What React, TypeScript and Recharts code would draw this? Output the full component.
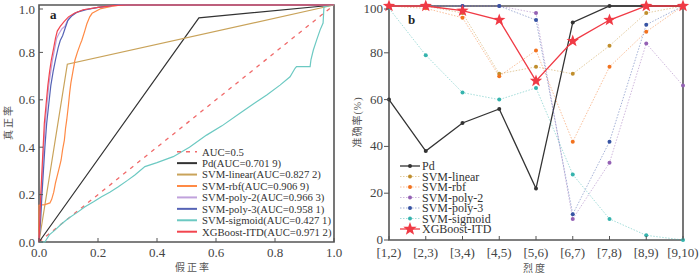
import { LineChart, Line, XAxis, YAxis, ReferenceArea, Legend } from "recharts";

const SERIF = "'Liberation Serif', 'Noto Sans CJK SC', serif";
const AXIS = "#555";

// ---- panel a: ROC curves, [fpr, tpr]
const rateTicks = [0, 0.2, 0.4, 0.6, 0.8, 1];
const rocRandom = [[0, 0], [1, 1]];
const rocPd = [[0, 0], [0.542, 0.946], [1, 1]];
const rocLinear = [[0, 0], [0.096, 0.75], [1, 1]];
const rocRbf = [
  [0, 0], [0, 0.155], [0.02, 0.158], [0.037, 0.165], [0.043, 0.18], [0.05, 0.21], [0.056, 0.25],
  [0.062, 0.28], [0.07, 0.32], [0.075, 0.346], [0.08, 0.39], [0.086, 0.43], [0.09, 0.48],
  [0.094, 0.515], [0.1, 0.58], [0.104, 0.63], [0.108, 0.67], [0.115, 0.72], [0.122, 0.768],
  [0.13, 0.8], [0.14, 0.835], [0.145, 0.85], [0.155, 0.89], [0.162, 0.92], [0.172, 0.95],
  [0.18, 0.965], [0.21, 0.985], [0.25, 0.995], [0.28, 1], [1, 1],
];
const rocPoly2 = [
  [0, 0], [0.004, 0.1], [0.008, 0.2], [0.012, 0.3], [0.016, 0.4], [0.021, 0.5], [0.027, 0.58],
  [0.033, 0.66], [0.04, 0.72], [0.046, 0.77], [0.054, 0.82], [0.06, 0.86], [0.068, 0.88],
  [0.078, 0.9], [0.088, 0.91], [0.095, 0.93], [0.105, 0.95], [0.12, 0.965], [0.15, 0.98],
  [0.2, 0.99], [0.27, 1], [1, 1],
];
const rocPoly3 = [
  [0, 0], [0.006, 0.1], [0.01, 0.2], [0.015, 0.3], [0.02, 0.4], [0.026, 0.5], [0.033, 0.58],
  [0.04, 0.66], [0.048, 0.72], [0.056, 0.77], [0.065, 0.82], [0.072, 0.85], [0.08, 0.87],
  [0.088, 0.9], [0.098, 0.935], [0.112, 0.955], [0.13, 0.97], [0.16, 0.98], [0.2, 0.99],
  [0.26, 1], [1, 1],
];
const rocSigmoid = [
  [0, 0], [0.02, 0], [0.035, 0.03], [0.054, 0.05], [0.075, 0.075], [0.1, 0.1], [0.13, 0.125],
  [0.156, 0.149], [0.185, 0.17], [0.212, 0.191], [0.24, 0.21], [0.269, 0.233], [0.3, 0.26],
  [0.325, 0.283], [0.359, 0.318], [0.4, 0.335], [0.455, 0.36], [0.51, 0.4], [0.568, 0.451],
  [0.62, 0.49], [0.681, 0.543], [0.73, 0.585], [0.772, 0.62], [0.817, 0.662], [0.851, 0.697],
  [0.868, 0.733], [0.873, 0.74], [0.919, 0.74], [0.922, 0.77], [0.93, 0.81], [0.941, 0.852],
  [0.953, 0.895], [0.963, 0.924], [0.966, 0.993], [1, 1],
];
const rocXgb = [
  [0, 0], [0.003, 0.1], [0.006, 0.2], [0.01, 0.3], [0.014, 0.4], [0.018, 0.5], [0.024, 0.58],
  [0.03, 0.66], [0.036, 0.72], [0.042, 0.77], [0.05, 0.82], [0.056, 0.86], [0.062, 0.89],
  [0.072, 0.91], [0.085, 0.93], [0.1, 0.95], [0.12, 0.965], [0.15, 0.98], [0.2, 0.99],
  [0.25, 0.997], [0.3, 1], [1, 1],
];

const rocSeries = [
  { name: "AUC=0.5", pts: rocRandom, color: "#f06a6a", dash: "4 5" },
  { name: "Pd(AUC=0.701 9)", pts: rocPd, color: "#333333" },
  { name: "SVM-linear(AUC=0.827 2)", pts: rocLinear, color: "#c9a35a" },
  { name: "SVM-rbf(AUC=0.906 9)", pts: rocRbf, color: "#ff8a45" },
  { name: "SVM-poly-2(AUC=0.966 3)", pts: rocPoly2, color: "#c0a2dc" },
  { name: "SVM-poly-3(AUC=0.958 1)", pts: rocPoly3, color: "#5563b5" },
  { name: "SVM-sigmoid(AUC=0.427 1)", pts: rocSigmoid, color: "#6cc9c2" },
  { name: "XGBoost-ITD(AUC=0.971 2)", pts: rocXgb, color: "#f2454f" },
];

// ---- panel b: accuracy by intensity
const intervals = ["[1,2)", "[2,3)", "[3,4)", "[4,5)", "[5,6)", "[6,7)", "[7,8)", "[8,9)", "[9,10)"];
const accTicks = [0, 20, 40, 60, 80, 100];
const accPd = [60, 38, 50, 56, 22, 93, 100, 100, 100];
const accLinear = [100, 100, 97, 71, 74, 71, 83, 97, 100];
const accRbf = [100, 99, 95, 70, 81, 42, 74, 89, 100];
const accPoly2 = [100, 100, 100, 100, 97, 9, 33, 84, 66];
const accPoly3 = [100, 100, 100, 100, 94, 11, 42, 92, 100];
const accSigmoid = [99, 79, 63, 60, 65, 28, 9, 2, 0];
const accXgb = [100, 100, 98, 94, 68, 85, 94, 100, 100];

const accSeries = [
  { key: "pd", name: "Pd", values: accPd, color: "#333333", dotted: false },
  { key: "linear", name: "SVM-linear", values: accLinear, color: "#c08e2c", dotted: true },
  { key: "rbf", name: "SVM-rbf", values: accRbf, color: "#f2721e", dotted: true },
  { key: "poly2", name: "SVM-poly-2", values: accPoly2, color: "#9461b4", dotted: true },
  { key: "poly3", name: "SVM-poly-3", values: accPoly3, color: "#3653a3", dotted: true },
  { key: "sigmoid", name: "SVM-sigmoid", values: accSigmoid, color: "#35b3ad", dotted: true },
  { key: "xgb", name: "XGBoost-ITD", values: accXgb, color: "#f03a45", dotted: false },
];

const accRows = intervals.map((label, i) => {
  const row: Record<string, string | number> = { label };
  accSeries.forEach((s) => (row[s.key] = s.values[i]));
  return row;
});

const toPts = (arr: number[][]) => arr.map(([x, y]) => ({ x, y }));

function starPoints(cx: number, cy: number, r: number, r2: number) {
  const pts: string[] = [];
  for (let i = 0; i < 10; i++) {
    const a = -Math.PI / 2 + (i * Math.PI) / 5;
    const rr = i % 2 === 0 ? r : r2;
    pts.push(`${cx + rr * Math.cos(a)},${cy + rr * Math.sin(a)}`);
  }
  return pts.join(" ");
}

function StarDot(props: any) {
  const { cx, cy, index } = props;
  if (cx == null || cy == null) return <g key={index} />;
  return <polygon key={index} points={starPoints(cx, cy, 6.5, 2.7)} fill="#f03a45" />;
}

// inward tick on a bottom axis
function InTickX({ x, y, payload, fmt, dy = 15 }: any) {
  return (
    <g>
      <line x1={x} x2={x} y1={y} y2={y - 4} stroke={AXIS} />
      <text x={x} y={y + dy} textAnchor="middle" fontSize={13} fill="#444" fontFamily={SERIF}>
        {fmt ? fmt(payload.value) : payload.value}
      </text>
    </g>
  );
}

function InTickY({ x, y, payload }: any) {
  return (
    <g>
      <line x1={x} x2={x + 4} y1={y} y2={y} stroke={AXIS} />
      <text x={x - 4} y={y + 4.5} textAnchor="end" fontSize={13} fill="#444" fontFamily={SERIF}>
        {Number(payload.value).toFixed(1)}
      </text>
    </g>
  );
}

function OutTickY({ x, y, payload }: any) {
  return (
    <g>
      <line x1={x - 5} x2={x} y1={y} y2={y} stroke={AXIS} />
      <text x={x - 6} y={y + 4} textAnchor="end" fontSize={13} fill="#444" fontFamily={SERIF}>
        {payload.value}
      </text>
    </g>
  );
}

function RocLegend() {
  return (
    <svg width={180} height={95} style={{ display: "block" }}>
      {rocSeries.map((s, i) => {
        const cy = 6.7 + i * 11.43;
        return (
          <g key={s.name}>
            <line x1={7} x2={27} y1={cy} y2={cy} stroke={s.color} strokeWidth={s.dash ? 1.5 : 2} strokeDasharray={s.dash} />
            <text x={32} y={cy + 3.8} fontSize={10.7} fill="#333" fontFamily={SERIF}>
              {s.name}
            </text>
          </g>
        );
      })}
    </svg>
  );
}

function AccLegend() {
  return (
    <svg width={130} height={80} style={{ display: "block" }}>
      {accSeries.map((s, i) => {
        const cy = 6 + i * 10.5;
        return (
          <g key={s.key}>
            <line
              x1={0} x2={20} y1={cy} y2={cy} stroke={s.color}
              strokeWidth={s.dotted ? 1 : 1.3}
              strokeOpacity={s.dotted ? 0.45 : 1}
              strokeDasharray={s.dotted ? "1.5 1.5" : undefined}
            />
            {s.key === "xgb" ? (
              <polygon points={starPoints(10, cy, 7, 2.9)} fill={s.color} />
            ) : (
              <circle cx={10} cy={cy} r={2} fill={s.color} />
            )}
            <text x={22} y={cy + 4.2} fontSize={12} fill="#333" fontFamily={SERIF}>
              {s.name}
            </text>
          </g>
        );
      })}
    </svg>
  );
}

function RocPanel() {
  return (
    <LineChart width={350} height={275} margin={{ top: 5, right: 16, bottom: 0, left: 0 }}>
      <XAxis
        type="number" dataKey="x" domain={[0, 1]} ticks={rateTicks} height={33}
        axisLine={false} tickLine={false} tickSize={0} tickMargin={0}
        tick={<InTickX fmt={(v: number) => v.toFixed(1)} />}
      />
      <YAxis
        type="number" domain={[0, 1]} ticks={rateTicks} width={39}
        axisLine={false} tickLine={false} tickSize={0} tickMargin={0}
        tick={<InTickY />}
      />
      {rocSeries.map((s) => (
        <Line
          key={s.name} data={toPts(s.pts)} dataKey="y" name={s.name} type="linear"
          stroke={s.color} strokeWidth={s.dash ? 1.3 : 1.2} strokeDasharray={s.dash}
          dot={false} activeDot={false} isAnimationActive={false}
        />
      ))}
      <ReferenceArea x1={0} x2={1} y1={0} y2={1} fill="none" stroke={AXIS} strokeWidth={1.6} ifOverflow="visible" />
      <Legend
        layout="vertical" align="center" verticalAlign="middle"
        wrapperStyle={{ left: 170, top: 145, width: 180, height: 95 }}
        content={() => <RocLegend />}
      />
    </LineChart>
  );
}

function AccPanel() {
  return (
    <LineChart width={350} height={275} data={accRows} margin={{ top: 6, right: 17, bottom: 0, left: 0 }}>
      <XAxis
        dataKey="label" height={35} interval={0}
        axisLine={false} tickLine={false} tickSize={0} tickMargin={0}
        tick={<InTickX dy={16.5} />}
      />
      <YAxis
        type="number" domain={[0, 100]} ticks={accTicks} width={39}
        axisLine={false} tickLine={false} tickSize={0} tickMargin={0}
        tick={<OutTickY />}
      />
      {accSeries.map((s) => (
        <Line
          key={s.key} dataKey={s.key} name={s.name} type="linear"
          stroke={s.color}
          strokeWidth={s.dotted ? 1 : 1.3}
          strokeOpacity={s.dotted ? 0.45 : 1}
          strokeDasharray={s.dotted ? "1.5 1.5" : undefined}
          dot={s.key === "xgb" ? StarDot : { r: 2, fill: s.color, stroke: "none" }}
          activeDot={false} isAnimationActive={false}
        />
      ))}
      <ReferenceArea x1="[1,2)" x2="[9,10)" y1={0} y2={100} fill="none" stroke={AXIS} strokeWidth={1.6} ifOverflow="visible" />
      <Legend
        layout="vertical" align="center" verticalAlign="middle"
        wrapperStyle={{ left: 50, top: 160, width: 130, height: 80 }}
        content={() => <AccLegend />}
      />
    </LineChart>
  );
}

export default function App() {
  return (
    <div style={{ position: "absolute", left: 0, top: 0, width: 700, height: 275, background: "#fff", fontFamily: SERIF }}>
      <div style={{ position: "absolute", left: 0, top: 0 }}>
        <RocPanel />
      </div>
      <div style={{ position: "absolute", left: 350, top: 0 }}>
        <AccPanel />
      </div>
      <svg width={700} height={275} style={{ position: "absolute", left: 0, top: 0, pointerEvents: "none" }}>
        <text x={50} y={19} fontSize={13} fontWeight="bold" fontFamily={SERIF} fill="#222">a</text>
        <text x={408} y={24} fontSize={13} fontWeight="bold" fontFamily={SERIF} fill="#222">b</text>
        <text x={8} y={122} fontSize={10} letterSpacing={2} textAnchor="middle" dominantBaseline="central"
          transform="rotate(-90 8 122)" fill="#555" fontFamily={SERIF}>真正率</text>
        <text x={193} y={267} fontSize={10} letterSpacing={2} textAnchor="middle" dominantBaseline="central"
          fill="#555" fontFamily={SERIF}>假正率</text>
        <text x={357} y={122} fontSize={10} letterSpacing={1} textAnchor="middle" dominantBaseline="central"
          transform="rotate(-90 357 122)" fill="#555" fontFamily={SERIF}>准确率(%)</text>
        <text x={535} y={268} fontSize={10} letterSpacing={2} textAnchor="middle" dominantBaseline="central"
          fill="#555" fontFamily={SERIF}>烈度</text>
      </svg>
    </div>
  );
}
